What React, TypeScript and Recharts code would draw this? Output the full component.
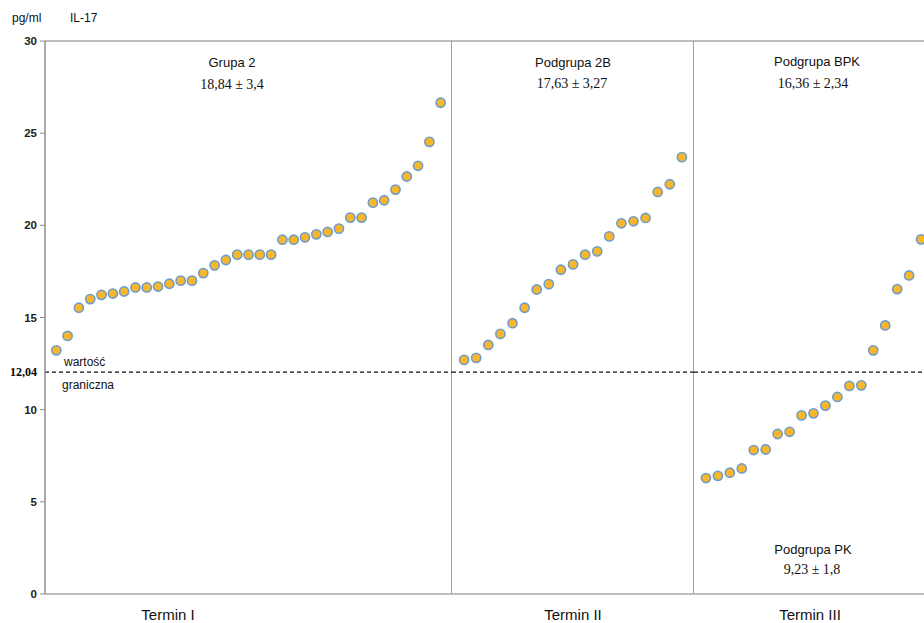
import React from "react";
import { ScatterChart, Scatter, XAxis, YAxis, ReferenceLine } from "recharts";

// IL-17 concentrations (pg/ml), sorted ascending within each group
const grupa2 = [
  13.22, 14.0, 15.53, 16.0, 16.23, 16.3, 16.41, 16.63, 16.63, 16.68, 16.83, 17.0, 17.0, 17.41, 17.83,
  18.12, 18.41, 18.41, 18.41, 18.41, 19.22, 19.22, 19.35, 19.51, 19.64, 19.82, 20.42, 20.42, 21.23,
  21.36, 21.94, 22.65, 23.23, 24.53, 26.65,
];
const podgrupa2B = [
  12.7, 12.81, 13.51, 14.11, 14.69, 15.53, 16.52, 16.81, 17.59, 17.88, 18.41, 18.59, 19.4, 20.11,
  20.22, 20.4, 21.81, 22.23, 23.7,
];
const podgrupaPK = [6.29, 6.41, 6.58, 6.81, 7.81, 7.84, 8.68, 8.8, 9.69, 9.8, 10.22, 10.69, 11.29, 11.32, 13.22];
const podgrupaBPK = [14.57, 16.54, 17.28, 19.24];

const yTicks = [0, 5, 10, 15, 20, 25, 30];
const cutoff = 12.04;
const terminLabels = ["Termin I", "Termin II", "Termin III"];

const toPoints = (values: number[], start = 0) => values.map((v, i) => ({ x: start + i, y: v }));

const FILL = "#F8B62A";
const STROKE = "#6F9CCB";
const SANS = "'Liberation Sans', Arial, sans-serif";
const SERIF = "'Liberation Serif', 'Times New Roman', serif";

const Dot = (props: any) => (
  <circle cx={props.cx} cy={props.cy} r={4.6} fill={FILL} stroke={STROKE} strokeWidth={1.6} />
);

const H = 615;
const MARGIN = { top: 33, right: 0, bottom: 0, left: 0 };

function Panel({
  width,
  count,
  series,
  showY,
  rightBorder,
}: {
  width: number;
  count: number;
  series: { x: number; y: number }[][];
  showY?: boolean;
  rightBorder?: boolean;
}) {
  return (
    <div style={{ flex: "none" }}>
      <ScatterChart width={width} height={H} margin={MARGIN}>
        <XAxis
          type="number"
          dataKey="x"
          domain={[-1, count]}
          allowDataOverflow
          tick={false}
          tickLine={false}
          height={29}
          axisLine={{ stroke: "#A9A9A9", strokeWidth: 1.5 }}
        />
        <YAxis
          type="number"
          dataKey="y"
          domain={[0, 30]}
          ticks={yTicks}
          hide={!showY}
          width={37}
          tickSize={5}
          tickMargin={3}
          axisLine={{ stroke: "#8C8C8C", strokeWidth: 1.5 }}
          tickLine={{ stroke: "#8C8C8C" }}
          tick={{ fill: "#222", fontSize: 11.5, fontFamily: SANS, fontWeight: 700 }}
        />
        <ReferenceLine y={30} stroke="#A9A9A9" strokeWidth={1.5} />
        {rightBorder && <ReferenceLine x={count} stroke="#7F7F7F" strokeWidth={1.5} />}
        <ReferenceLine
          y={cutoff}
          stroke="#111"
          strokeDasharray="4 3"
          strokeWidth={1.3}
          label={
            showY
              ? {
                  value: "12,04",
                  position: "left",
                  offset: 8,
                  fill: "#000",
                  fontSize: 12,
                  fontWeight: 700,
                  fontFamily: SERIF,
                }
              : undefined
          }
        />
        {series.map((pts, i) => (
          <Scatter key={i} data={pts} shape={Dot} isAnimationActive={false} />
        ))}
      </ScatterChart>
    </div>
  );
}

const Note = ({
  x,
  y,
  children,
  size = 13,
  font = SANS,
  align = "center",
}: {
  x: number;
  y: number;
  children: React.ReactNode;
  size?: number;
  font?: string;
  align?: "center" | "left";
}) => (
  <div
    style={{
      position: "absolute",
      left: x,
      top: y,
      transform: align === "center" ? "translate(-50%, -50%)" : "translate(0, -50%)",
      fontSize: size,
      fontFamily: font,
      color: "#111",
      whiteSpace: "nowrap",
      lineHeight: 1,
    }}
  >
    {children}
  </div>
);

export default function App() {
  return (
    <div style={{ position: "relative", width: 924, height: 623, overflow: "hidden", background: "#fff" }}>
      <style>{"body{margin:0}"}</style>
      <div style={{ position: "absolute", left: 8, top: 8, width: 916, height: H, display: "flex" }}>
        <Panel width={444} count={grupa2.length} series={[toPoints(grupa2)]} showY rightBorder />
        <Panel width={242} count={podgrupa2B.length} series={[toPoints(podgrupa2B)]} rightBorder />
        <Panel
          width={239}
          count={podgrupaPK.length + podgrupaBPK.length}
          series={[toPoints(podgrupaPK), toPoints(podgrupaBPK, podgrupaPK.length)]}
        />

        <Note x={4} y={10} size={12} align="left">pg/ml</Note>
        <Note x={62} y={10} size={12} align="left">IL-17</Note>

        <Note x={224} y={54}>Grupa 2</Note>
        <Note x={224} y={77} size={14} font={SERIF}>18,84 ± 3,4</Note>
        <Note x={565} y={54}>Podgrupa 2B</Note>
        <Note x={564} y={76} size={14} font={SERIF}>17,63 ± 3,27</Note>
        <Note x={809} y={53}>Podgrupa BPK</Note>
        <Note x={805} y={76} size={14} font={SERIF}>16,36 ± 2,34</Note>
        <Note x={805} y={541}>Podgrupa PK</Note>
        <Note x={804} y={562} size={14} font={SERIF}>9,23 ± 1,8</Note>

        <Note x={56} y={354} size={12} align="left">wartość</Note>
        <Note x={54} y={377} size={12} align="left">graniczna</Note>

        <Note x={160} y={606} size={15}>{terminLabels[0]}</Note>
        <Note x={565} y={606} size={15}>{terminLabels[1]}</Note>
        <Note x={802} y={606} size={15}>{terminLabels[2]}</Note>
      </div>
    </div>
  );
}
